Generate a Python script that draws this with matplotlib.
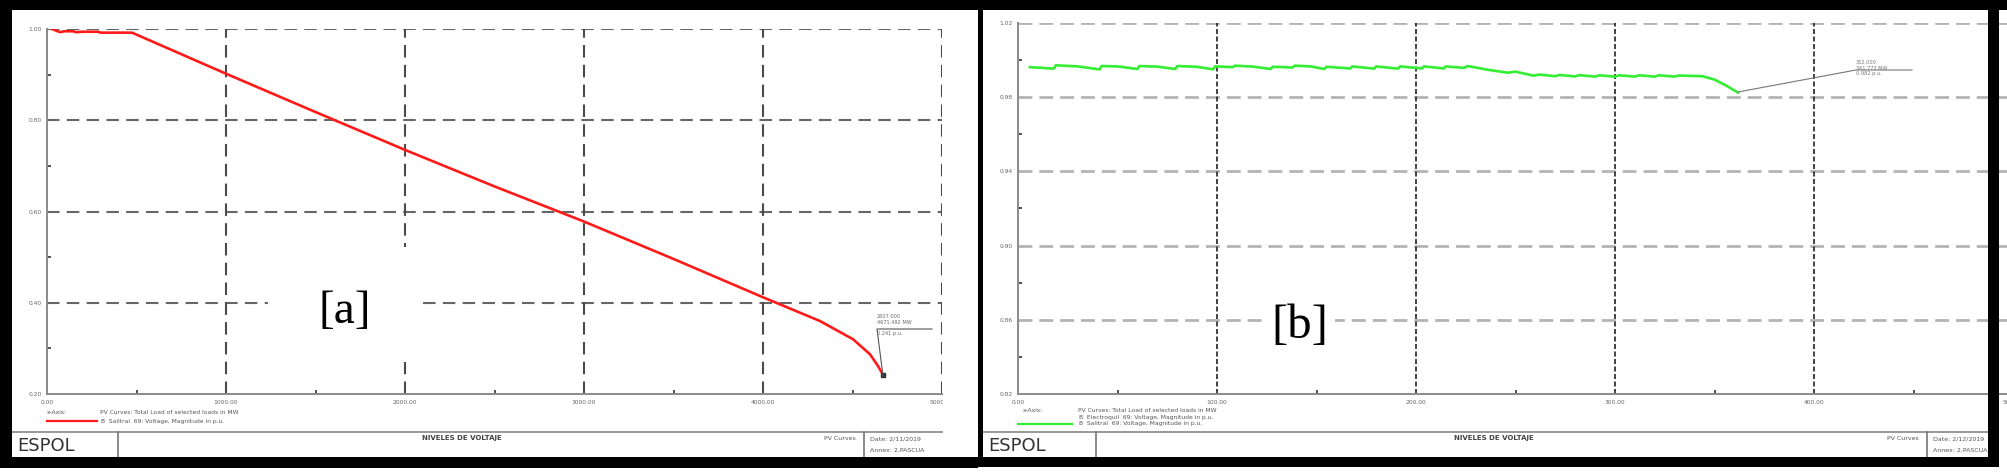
import matplotlib
matplotlib.use("Agg")
import matplotlib.pyplot as plt
from matplotlib.lines import Line2D
from matplotlib.patches import Rectangle
from matplotlib.ticker import FixedLocator

W, H = 2007, 475

# ---- data ----
red_mw = [28, 60, 75, 95, 150, 160, 200, 285, 300, 475, 1000, 1500, 2000, 2500,
          3000, 3500, 4000, 4318, 4503, 4598, 4643, 4671.492]
red_pu = [1.000, 0.995, 0.993, 0.995, 0.995, 0.993, 0.994, 0.994, 0.992, 0.992,
          0.902, 0.818, 0.735, 0.655, 0.578, 0.496, 0.412, 0.360, 0.320, 0.287,
          0.261, 0.2415]

green_mw = [6, 18, 19, 30, 41, 42, 50, 60, 61, 70, 79, 80, 90, 98, 99, 108, 109,
            118, 127, 128, 138, 139, 147, 154, 155, 167, 168, 179, 180, 191, 192,
            203, 204, 214, 215, 224, 226, 236, 246, 250, 259, 262, 270, 272, 280,
            282, 290, 292, 300, 302, 310, 312, 320, 322, 330, 332, 344, 350, 356,
            361.773]
green_pu = [0.9962, 0.9954, 0.9972, 0.9966, 0.9950, 0.9968, 0.9966, 0.9952,
            0.9968, 0.9965, 0.9952, 0.9968, 0.9964, 0.9950, 0.9966, 0.9962,
            0.9970, 0.9965, 0.9952, 0.9964, 0.9960, 0.9970, 0.9966, 0.9952,
            0.9964, 0.9955, 0.9966, 0.9954, 0.9966, 0.9954, 0.9966, 0.9955,
            0.9966, 0.9955, 0.9966, 0.9958, 0.9968, 0.9948, 0.9932, 0.9938,
            0.9916, 0.9922, 0.9913, 0.9920, 0.9912, 0.9919, 0.9911, 0.9918,
            0.9911, 0.9918, 0.9911, 0.9918, 0.9911, 0.9918, 0.9911, 0.9917,
            0.9913, 0.9895, 0.9862, 0.9825]

a_xticks = [0, 1000, 2000, 3000, 4000, 5000]
a_xlabels = ["0.00", "1000.00", "2000.00", "3000.00", "4000.00", "5000.00"]
a_yticks = [0.20, 0.40, 0.60, 0.80, 1.00]
b_xticks = [0, 100, 200, 300, 400, 500]
b_xlabels = ["0.00", "100.00", "200.00", "300.00", "400.00", "500.00"]
b_yticks = [0.82, 0.86, 0.90, 0.94, 0.98, 1.02]

fig = plt.figure(figsize=(W / 100, H / 100), dpi=100)
fig.patch.set_facecolor("white")


def ax_at(left, top, right, bottom):
    return fig.add_axes([left / W, 1 - bottom / H, (right - left) / W, (bottom - top) / H])


def rect(x0, y0, x1, y1, color, z=5):
    fig.patches.append(Rectangle((x0 / W, 1 - y1 / H), (x1 - x0) / W, (y1 - y0) / H,
                                 transform=fig.transFigure, facecolor=color,
                                 edgecolor="none", zorder=z))


def line(xs, ys, color="#777777", lw=1.0, z=6):
    fig.lines.append(Line2D([x / W for x in xs], [1 - y / H for y in ys],
                            transform=fig.transFigure, color=color, lw=lw, zorder=z))


def txt(x, y, s, size=4.5, color="#555555", ha="left", va="center", **kw):
    fig.text(x / W, 1 - y / H, s, fontsize=size, color=color, ha=ha, va=va, zorder=8, **kw)


def style_axes(ax, xticks, xlabels, yticks, xminor, yminor, hcol, hdash, hlw, vcol, vdash, vlw):
    for s in ("top", "right"):
        ax.spines[s].set_visible(False)
    for s in ("left", "bottom"):
        ax.spines[s].set_color("#8a8a8a")
        ax.spines[s].set_linewidth(1.4)
    ax.set_xticks(xticks)
    ax.set_xticklabels(xlabels)
    ax.set_yticks(yticks)
    ax.set_yticklabels([f"{v:.2f}" for v in yticks])
    ax.xaxis.set_minor_locator(FixedLocator(xminor))
    ax.yaxis.set_minor_locator(FixedLocator(yminor))
    ax.tick_params(which="major", length=0, labelsize=4.3, labelcolor="#666666", pad=4)
    ax.tick_params(which="minor", length=3, width=1.3, direction="in", color="#444444")
    ax.patch.set_alpha(0)
    for v in yticks[1:]:
        ax.axhline(v, color=hcol, lw=hlw, dashes=hdash, zorder=1)
    for v in xticks[1:]:
        ax.axvline(v, color=vcol, lw=vlw, dashes=vdash, zorder=1)


# ---- panel a ----
ax1 = ax_at(47, 29, 942, 394)
ax1.set_xlim(0, 5000)
ax1.set_ylim(0.2, 1.0)
style_axes(ax1, a_xticks, a_xlabels, a_yticks,
           [500, 1500, 2500, 3500, 4500], [0.3, 0.5, 0.7, 0.9],
           "#666666", (6, 3.5), 1.5, "#4a4a4a", (6, 3.5), 1.5)
ax1.plot(red_mw, red_pu, color="#ff1a1a", lw=1.9, zorder=3)
ax1.plot([red_mw[-1]], [red_pu[-1]], marker="s", ms=2.5, color="#333333", zorder=4)

# ---- panel b ----
ax2 = ax_at(1018, 23, 2013, 394)
ax2.set_xlim(0, 500)
ax2.set_ylim(0.82, 1.02)
style_axes(ax2, b_xticks, b_xlabels, b_yticks,
           [50, 150, 250, 350, 450], [0.84, 0.88, 0.92, 0.96, 1.00],
           "#b4b4b4", (5, 2.5), 2.0, "#222222", (3, 1.5), 1.2)
ax2.plot(green_mw, green_pu, color="#33ee33", lw=1.9, zorder=3)

# blanks behind the [a] / [b] labels
rect(268, 247, 420, 362, "white", z=2)
rect(1265, 280, 1335, 372, "white", z=2)
txt(345, 312, "[a]", size=34, color="black", ha="center", family="Liberation Serif")
txt(1300, 326, "[b]", size=35, color="black", ha="center", family="Liberation Serif")

# ---- annotations ----
line([883, 877, 932], [376, 329, 329], color="#555555", lw=0.8)
txt(877, 316, "2607.000", size=3.6, color="#666666")
txt(877, 323, "4671.492 MW", size=3.6, color="#666666")
txt(877, 333, "0.241 p.u.", size=3.6, color="#666666")

line([1738, 1856, 1912], [92, 70, 70], color="#777777", lw=0.8)
txt(1856, 63, "362.000", size=3.6, color="#777777")
txt(1856, 68, "361.773 MW", size=3.6, color="#777777")
txt(1856, 74, "0.982 p.u.", size=3.6, color="#777777")

# ---- legends ----
txt(47, 412, "x-Axis:", size=4.3)
txt(100, 412, "PV Curves: Total Load of selected loads in MW", size=4.3)
line([47, 97], [421, 421], color="#ff1a1a", lw=1.6)
txt(101, 421, "B  Salitral  69: Voltage, Magnitude in p.u.", size=4.3)

txt(1023, 410, "x-Axis:", size=4.3)
txt(1078, 410, "PV Curves: Total Load of selected loads in MW", size=4.3)
txt(1079, 417, "B  Electroquil  69: Voltage, Magnitude in p.u.", size=4.3)
line([1018, 1072], [424, 424], color="#33ee33", lw=1.6)
txt(1079, 424, "B  Salitral  69: Voltage, Magnitude in p.u.", size=4.3)

# ---- title blocks ----
blocks = [(12, 943, 118, 864, 462, "Date: 2/11/2019"),
          (983, 1988, 1096, 1927, 1494, "Date: 2/12/2019")]
for x0, x1, xdiv, xdiv2, xtitle, date in blocks:
    line([x0, x1], [432, 432], color="#888888", lw=1.2)
    line([xdiv, xdiv], [432, 457], color="#777777", lw=1.2)
    line([xdiv2, xdiv2], [432, 457], color="#777777", lw=1.2)
    txt(x0 + 5, 446, "ESPOL", size=13, color="#333333")
    txt(xtitle, 438, "NIVELES DE VOLTAJE", size=5, color="#444444",
        ha="center", fontweight="bold")
    txt(xdiv2 - 8, 439, "PV Curves", size=4.5, ha="right")
    txt(xdiv2 + 6, 439, date, size=4.5)
    txt(xdiv2 + 6, 451, "Annex: 2.PASCUA", size=4.5)

# ---- frames ----
rect(0, 0, W, 10, "black", z=9)
rect(0, 0, 12, 468, "black", z=9)
rect(0, 457, 978, 468, "black", z=9)
rect(943, 10, 978, 457, "white", z=9)
rect(978, 10, 983, 467, "black", z=9)
rect(978, 457, 1999, 467, "black", z=9)
rect(1988, 10, 1999, 467, "black", z=9)

fig.savefig("out.png", dpi=100, facecolor="white")
